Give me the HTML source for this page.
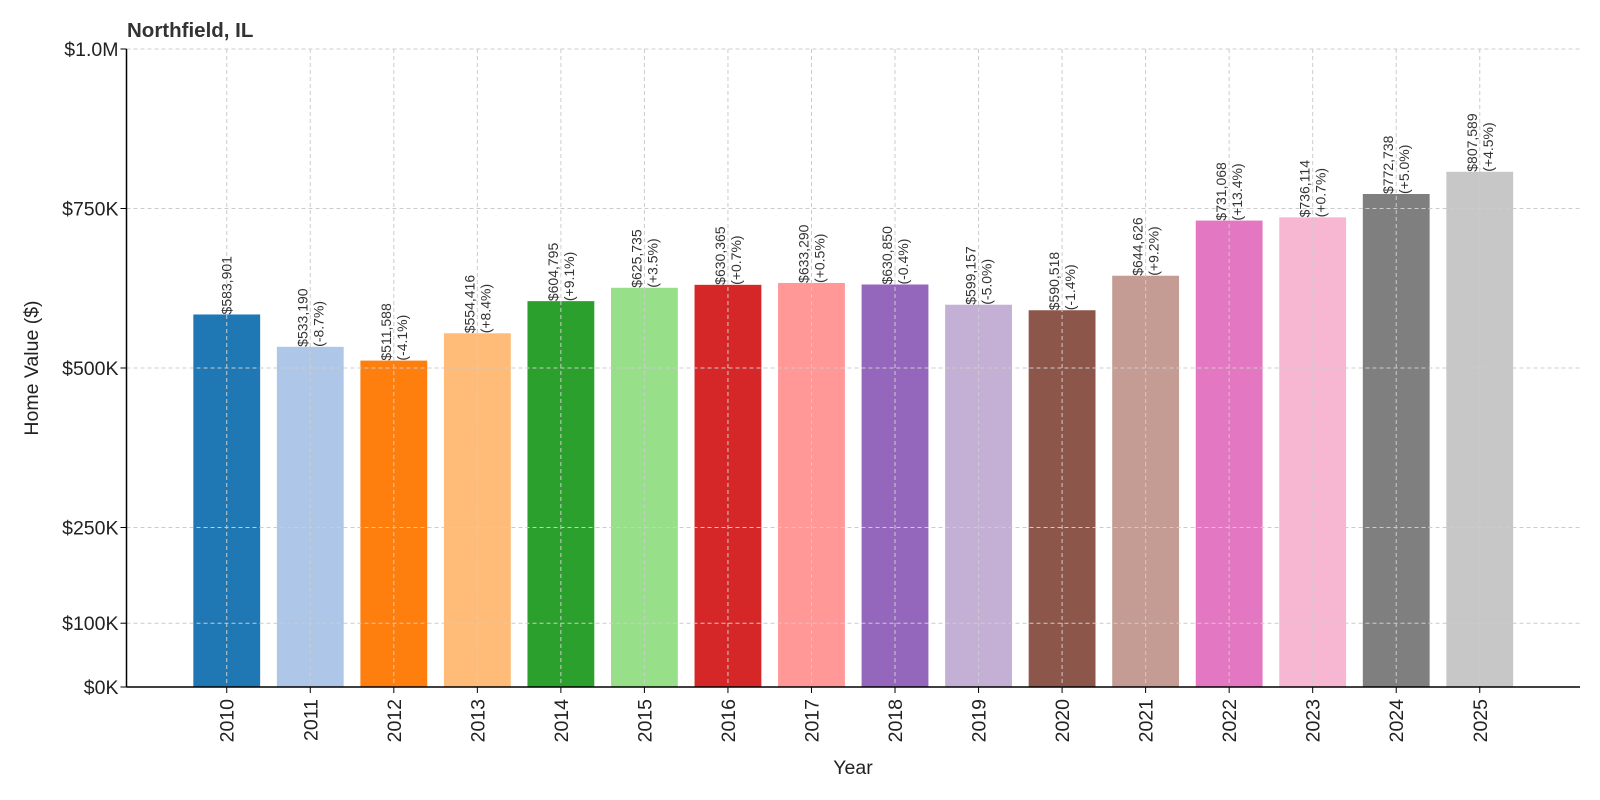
<!DOCTYPE html>
<html><head><meta charset="utf-8"><style>
body{margin:0;background:#fff;}
svg{display:block;font-family:"Liberation Sans","DejaVu Sans",sans-serif;}
</style></head><body>
<svg id="chart" width="1600" height="800" viewBox="0 0 1600 800">
<text x="127" y="37" font-size="20.5" font-weight="bold" fill="#333">Northfield, IL</text>
<g id="grid"></g><g id="bars"></g><g id="gridtop"></g><g id="labels"></g><g id="axes"></g>
<text x="853" y="774" font-size="19.5" text-anchor="middle" fill="#222">Year</text>
<text transform="translate(38,368) rotate(-90)" font-size="19.5" text-anchor="middle" fill="#222">Home Value ($)</text>
</svg>
<script>
const years=["2010","2011","2012","2013","2014","2015","2016","2017","2018","2019","2020","2021","2022","2023","2024","2025"];
const values=[583901,533190,511588,554416,604795,625735,630365,633290,630850,599157,590518,644626,731068,736114,772738,807589];
const changes=["","-8.7%","-4.1%","+8.4%","+9.1%","+3.5%","+0.7%","+0.5%","-0.4%","-5.0%","-1.4%","+9.2%","+13.4%","+0.7%","+5.0%","+4.5%"];
const colors=["#1f77b4","#aec7e8","#ff7f0e","#ffbb78","#2ca02c","#98df8a","#d62728","#ff9896","#9467bd","#c5b0d5","#8c564b","#c49c94","#e377c2","#f7b6d2","#7f7f7f","#c7c7c7"];
const yTicks=[0,100000,250000,500000,750000,1000000];
const yTickLabels=["$0K","$100K","$250K","$500K","$750K","$1.0M"];
const L=126.5,R=1580,T=49,B=687,NS="http://www.w3.org/2000/svg";
const band=(R-L)/(years.length-1+2.4);
const xs=i=>L+band*(1.2+i);
const ys=v=>B-(v/1000000)*(B-T);
function mk(tag,attrs,parent){const e=document.createElementNS(NS,tag);for(const k in attrs)e.setAttribute(k,attrs[k]);document.getElementById(parent).appendChild(e);return e;}
yTicks.forEach((t,i)=>{
 const g=mk("line",{x1:L,x2:R,y1:ys(t),y2:ys(t),stroke:"#ccc","stroke-dasharray":"4,3","stroke-width":1},"gridtop");
 
 
 const tk=mk("line",{x1:L-6,x2:L,y1:ys(t),y2:ys(t),stroke:"#000"},"axes");
 
 
 const tx=mk("text",{x:L-8,y:ys(t)+7,"font-size":19.5,"text-anchor":"end",fill:"#222"},"axes");
 tx.textContent=yTickLabels[i];
 
 
});
const bw=band*0.8;
years.forEach((y,i)=>{
 const x=xs(i),top=ys(values[i]);
 const r=mk("rect",{x:x-bw/2,y:top,width:bw,height:B-top,fill:colors[i]},"bars");
 
 
 const g=mk("line",{x1:x,x2:x,y1:T,y2:B,stroke:"#ccc","stroke-dasharray":"4,3"},"gridtop");
 
 
 const tk=mk("line",{x1:x,x2:x,y1:B,y2:B+6,stroke:"#000"},"axes");
 
 
 const tx=mk("text",{transform:`translate(${x+7},${B+12}) rotate(-90)`,"font-size":19.5,"text-anchor":"end",fill:"#222"},"axes");
 tx.textContent=y;
 
 
 const val="$"+values[i].toLocaleString("en-US");
 if(changes[i]===""){
  const t=mk("text",{transform:`translate(${x+5},${top}) rotate(-90)`,"font-size":14,fill:"#333"},"labels");
  t.textContent=val;
  
  
 }else{
  const t=mk("text",{transform:`translate(${x-3},${top}) rotate(-90)`,"font-size":14,fill:"#333"},"labels");
  t.textContent=val;
  
  
  const c=mk("text",{transform:`translate(${x+13},${top}) rotate(-90)`,"font-size":14,fill:"#333"},"labels");
  c.textContent="("+changes[i]+")";
  
  
 }
});
const ax=mk("line",{x1:L,x2:L,y1:T,y2:B,stroke:"#000","stroke-width":1.5},"axes");


const bx=mk("line",{x1:L,x2:R,y1:B,y2:B,stroke:"#000","stroke-width":1.5},"axes");


</script>
</body></html>
